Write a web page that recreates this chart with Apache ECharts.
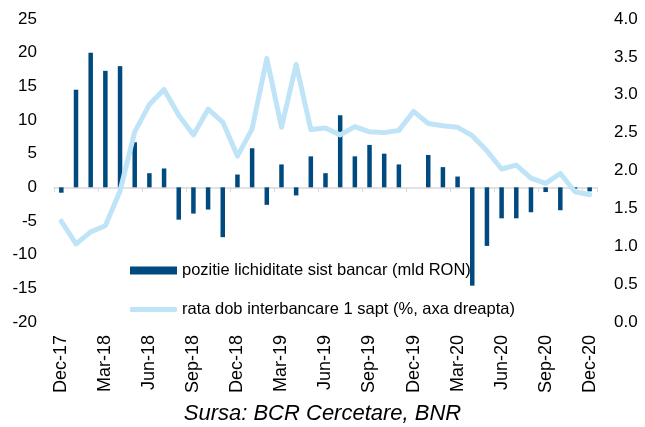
<!DOCTYPE html>
<html>
<head>
<meta charset="utf-8">
<script src="https://cdn.jsdelivr.net/npm/echarts@6/dist/echarts.min.js"></script>
<style>
  html, body { margin: 0; padding: 0; background: #fff; }
  #chart { width: 645px; height: 427px; }
</style>
</head>
<body>
<div id="chart"></div>
<script>
var months = [
  'Dec-17', 'Jan-18', 'Feb-18', 'Mar-18', 'Apr-18', 'May-18', 'Jun-18', 'Jul-18', 'Aug-18', 'Sep-18', 'Oct-18', 'Nov-18',
  'Dec-18', 'Jan-19', 'Feb-19', 'Mar-19', 'Apr-19', 'May-19', 'Jun-19', 'Jul-19', 'Aug-19', 'Sep-19', 'Oct-19', 'Nov-19',
  'Dec-19', 'Jan-20', 'Feb-20', 'Mar-20', 'Apr-20', 'May-20', 'Jun-20', 'Jul-20', 'Aug-20', 'Sep-20', 'Oct-20', 'Nov-20',
  'Dec-20'
];

// pozitie lichiditate sist bancar (mld RON)
var lichiditate = [
  -0.8, 14.5, 20.0, 17.3, 18.0, 6.7, 2.1, 2.8, -4.8, -3.9, -3.3, -7.4,
  1.9, 5.8, -2.6, 3.4, -1.2, 4.6, 2.1, 10.7, 4.6, 6.3, 5.0, 3.4,
  0, 4.8, 3.0, 1.6, -14.6, -8.7, -4.6, -4.6, -3.7, -0.7, -3.4, -0.2,
  -0.6
];

// rata dob interbancare 1 sapt (%)
var rata = [
  1.33, 1.03, 1.19, 1.27, 1.73, 2.51, 2.87, 3.07, 2.73, 2.47, 2.81, 2.64,
  2.19, 2.55, 3.48, 2.57, 3.40, 2.54, 2.56, 2.47, 2.58, 2.51, 2.50, 2.53,
  2.78, 2.62, 2.59, 2.57, 2.46, 2.26, 2.02, 2.07, 1.90, 1.83, 1.96, 1.72,
  1.68
];

var barName = 'pozitie lichiditate sist bancar (mld RON)';
var lineName = 'rata dob interbancare 1 sapt (%, axa dreapta)';

var FONT = 'Liberation Sans';
var chart = echarts.init(document.getElementById('chart'));

var option = {
  animation: false,
  backgroundColor: '#fff',
  title: {
    text: 'Sursa: BCR Cercetare, BNR',
    left: 'center',
    top: 403,
    padding: 0,
    textStyle: { fontFamily: FONT, fontSize: 22, fontStyle: 'italic', fontWeight: 'normal', color: '#000' }
  },
  // two legends so each icon can have its own height
  legend: [{
    orient: 'vertical',
    left: 130,
    top: 262,
    padding: 0,
    itemWidth: 47,
    itemHeight: 8,
    textStyle: { fontFamily: FONT, fontSize: 16.5, color: '#000' },
    data: [{ name: barName, icon: 'rect' }]
  }, {
    orient: 'vertical',
    left: 130,
    top: 301,
    padding: 0,
    itemWidth: 47,
    itemHeight: 5,
    textStyle: { fontFamily: FONT, fontSize: 16.5, color: '#000' },
    data: [{ name: lineName, icon: 'roundRect' }]
  }],
  grid: { left: 54, right: 48, top: 19, bottom: 105 },
  xAxis: [{
    type: 'category',
    data: months,
    boundaryGap: true,
    axisLine: { onZero: true, onZeroAxisIndex: 0, lineStyle: { color: '#d9d9d9', width: 1.5 } },
    axisTick: { show: true, interval: 2, length: 5, lineStyle: { color: '#d9d9d9' } },
    axisLabel: { show: false }
  }, {
    type: 'category',
    data: months,
    position: 'bottom',
    boundaryGap: true,
    axisLine: { show: false, onZero: false },
    axisTick: { show: false },
    axisLabel: { interval: 2, rotate: 90, margin: 13, fontFamily: FONT, fontSize: 18, color: '#000' }
  }],
  yAxis: [{
    type: 'value',
    min: -20,
    max: 25,
    interval: 5,
    splitLine: { show: false },
    axisLine: { show: false },
    axisTick: { show: false },
    axisLabel: { margin: 17, fontFamily: FONT, fontSize: 17, color: '#000' }
  }, {
    type: 'value',
    min: 0,
    max: 4,
    interval: 0.5,
    position: 'right',
    splitLine: { show: false },
    axisLine: { show: false },
    axisTick: { show: false },
    axisLabel: {
      margin: 17,
      fontFamily: FONT,
      fontSize: 17,
      color: '#000',
      formatter: function (v) { return v.toFixed(1); }
    }
  }],
  series: [{
    name: barName,
    type: 'bar',
    xAxisIndex: 0,
    yAxisIndex: 0,
    barWidth: 4.5,
    itemStyle: { color: '#004a7f' },
    data: lichiditate
  }, {
    name: lineName,
    type: 'line',
    xAxisIndex: 0,
    yAxisIndex: 1,
    showSymbol: false,
    symbol: 'none',
    lineStyle: { color: '#bfe4f8', width: 5, cap: 'round', join: 'round' },
    itemStyle: { color: '#bfe4f8' },
    data: rata
  }]
};

chart.setOption(option);
</script>
</body>
</html>
